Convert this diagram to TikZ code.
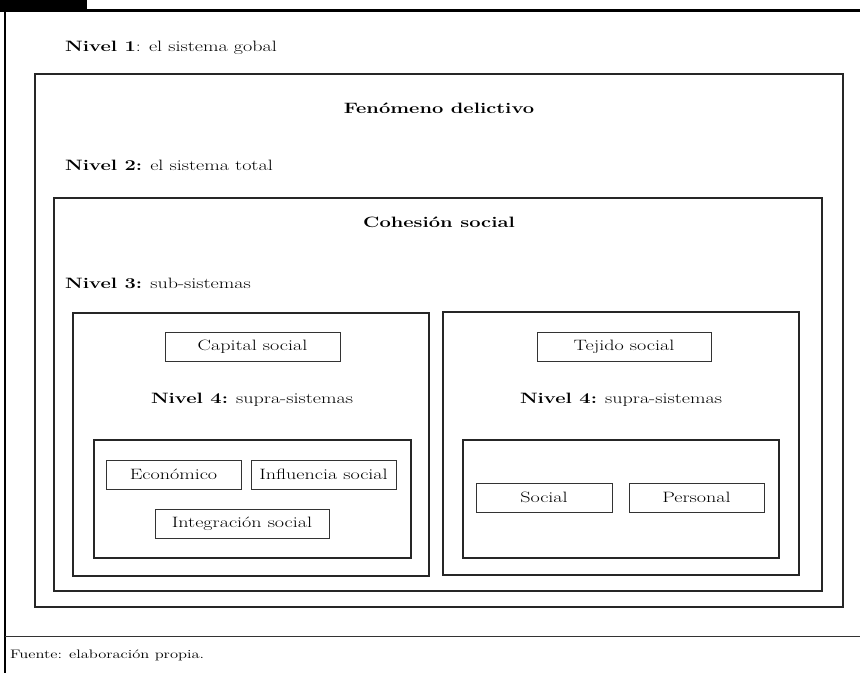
\documentclass[tikz,border=0pt]{standalone}
\usepackage{fontspec}
\setmainfont{Latin Modern Roman}[FakeStretch=1.34]
\begin{document}
\begin{tikzpicture}[x=1pt,y=-1pt,
  bigbox/.style={draw=black!85,line width=2.2pt},
  smallbox/.style={draw=black!80,line width=0.9pt,minimum height=29pt,inner sep=0pt,font=\fontsize{15}{17}\selectfont},
  lbl/.style={font=\fontsize{15}{17}\selectfont,inner sep=0pt},
  ttl/.style={font=\fontsize{15}{17}\selectfont\bfseries,inner sep=0pt}]
\useasboundingbox (0,0) rectangle (860,673);
% frame
\fill[black] (0,0) rectangle (87,10);
\draw[line width=2.8pt] (0,10.5) -- (860,10.5);
\draw[line width=1.8pt] (5,10) -- (5,673);
\draw[line width=1pt,black!80] (5,636) -- (860,636);
\node[anchor=west,inner sep=0pt,font=\fontsize{12.3}{14}\selectfont] (src) at (10,655) {Fuente: elaboración propia.};
% level 1
\node[lbl,anchor=west] (n1) at (65,48) {\textbf{Nivel 1}: el sistema gobal};
\draw[bigbox] (35,74) rectangle (843,607);
\node[ttl] (fen) at (439,108) {Fenómeno delictivo};
% level 2
\node[lbl,anchor=west] (n2) at (65,165) {\textbf{Nivel 2:} el sistema total};
\draw[bigbox] (54,198) rectangle (822,591);
\node[ttl] (coh) at (439,222) {Cohesión social};
% level 3
\node[lbl,anchor=west] (n3) at (65,283) {\textbf{Nivel 3:} sub-sistemas};
\draw[bigbox] (73,313) rectangle (429,576);
\draw[bigbox] (443,312) rectangle (799,575);
% left subsystem
\node[smallbox,draw,minimum width=175pt] (cap) at (252.5,347) {Capital social};
\node[lbl] (n4l) at (252,400) {\textbf{Nivel 4:} supra-sistemas};
\draw[bigbox] (94,440) rectangle (411,558);
\node[smallbox,draw,minimum width=135pt] (eco) at (173.5,474.5) {Económico};
\node[smallbox,draw,minimum width=145pt] (inf) at (323.5,474.5) {Influencia social};
\node[smallbox,draw,minimum width=174pt] (int) at (242,524) {Integración social};
% right subsystem
\node[smallbox,draw,minimum width=174pt] (tej) at (624,347) {Tejido social};
\node[lbl] (n4r) at (621,400) {\textbf{Nivel 4:} supra-sistemas};
\draw[bigbox] (463,440) rectangle (779,558);
\node[smallbox,draw,minimum width=136pt] (soc) at (544,497.5) {Social};
\node[smallbox,draw,minimum width=135pt] (per) at (696.5,497.5) {Personal};
\end{tikzpicture}
\end{document}
